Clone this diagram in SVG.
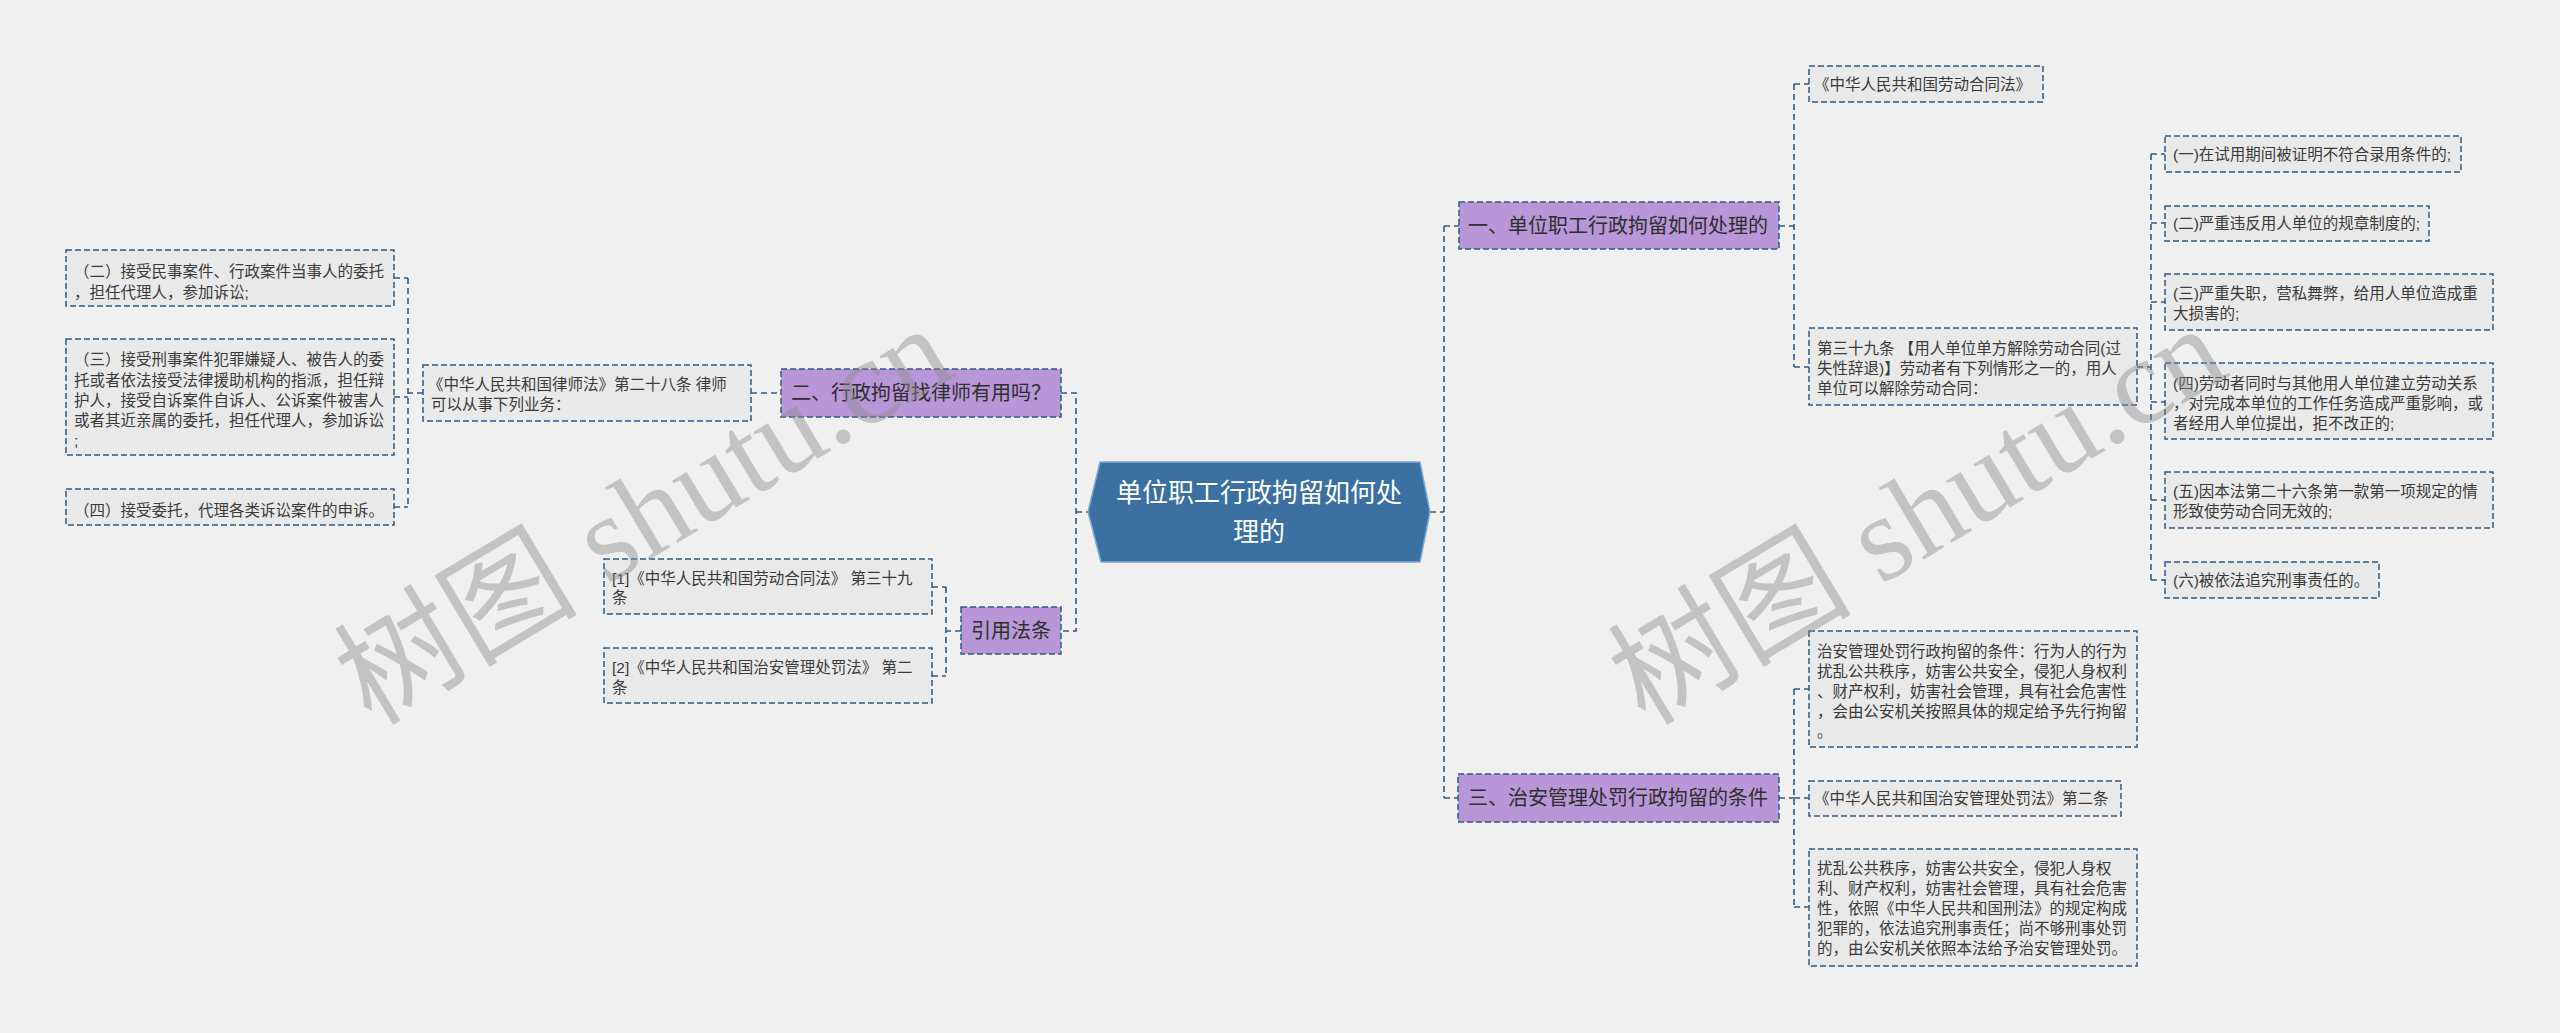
<svg xmlns="http://www.w3.org/2000/svg" width="2560" height="1033" viewBox="0 0 2560 1033">
<defs>
<style>
.bg{fill:#f0f0f0}
.leaf{fill:#e9e9e9;stroke:#2e5b82;stroke-width:1.5;stroke-dasharray:6 3}
.topic{fill:#b896d8;stroke:#2e5b82;stroke-width:1.5;stroke-dasharray:6 3}
.conn{fill:none;stroke:#2e5b82;stroke-width:1.6;stroke-dasharray:6 4}
.t{font-family:"Liberation Sans","Noto Sans CJK SC",sans-serif;font-size:15.5px;fill:#3a3a3a}
.tt{font-family:"Liberation Sans","Noto Sans CJK SC",sans-serif;font-size:20px;fill:#2e2e2e}
.ct{font-family:"Liberation Sans","Noto Sans CJK SC",sans-serif;font-size:26px;fill:#ffffff}
.wm{font-family:"Liberation Serif","Noto Sans CJK SC",serif;font-size:122px;fill:#8c8c8c;fill-opacity:0.45}
</style>
</defs>
<rect class="bg" x="0" y="0" width="2560" height="1033"/>

<g id="connectors">
<path class="conn" d="M423,393 H408 M408,278 V507 M394,278 H408 M394,397 H408 M394,507 H408"/>
<path class="conn" d="M751,393 H781"/>
<path class="conn" d="M1061,393 H1076 V631 H1061 M1076,512 H1088"/>
<path class="conn" d="M961,631 H946 M946,587 V676 M932,587 H946 M932,676 H946"/>
<path class="conn" d="M1430,512 H1444 M1444,226 V798 M1444,226 H1459 M1444,798 H1458"/>
<path class="conn" d="M1779,226 H1794 M1794,84 V367 M1794,84 H1809 M1794,367 H1809"/>
<path class="conn" d="M2137,367 H2151 M2151,154 V580 M2151,154 H2165 M2151,223 H2165 M2151,302 H2165 M2151,402 H2165 M2151,500 H2165 M2151,580 H2165"/>
<path class="conn" d="M1779,798 H1794 M1794,689 V907 M1794,689 H1809 M1794,798 H1809 M1794,907 H1809"/>
</g>

<g id="center">
<polygon points="1088,512 1100,462 1420,462 1430,512 1420,562 1101,562" fill="#3c70a3" stroke="#7fa8d0" stroke-width="1.5"/>
<text class="ct" x="1259" y="502" text-anchor="middle">单位职工行政拘留如何处</text>
<text class="ct" x="1259" y="541" text-anchor="middle">理的</text>
</g>

<g id="n-lawyer">
<rect class="topic" x="781" y="369" width="280" height="48"/>
<text class="tt" x="791" y="400">二、行政拘留找律师有用吗？</text>
</g>
<g id="n-cite">
<rect class="topic" x="961" y="607" width="100" height="47"/>
<text class="tt" x="1011" y="638" text-anchor="middle">引用法条</text>
</g>
<g id="n-lawyerlaw">
<rect class="leaf" x="423" y="365" width="328" height="56"/>
<text class="t" x="428" y="390">《中华人民共和国律师法》第二十八条 律师</text>
<text class="t" x="431" y="410">可以从事下列业务：</text>
</g>
<g id="n-l2">
<rect class="leaf" x="66" y="250" width="328" height="56"/>
<text class="t" x="74" y="277">（二）接受民事案件、行政案件当事人的委托</text>
<text class="t" x="74" y="298">，担任代理人，参加诉讼;</text>
</g>
<g id="n-l3">
<rect class="leaf" x="66" y="339" width="328" height="116"/>
<text class="t" x="74" y="365">（三）接受刑事案件犯罪嫌疑人、被告人的委</text>
<text class="t" x="74" y="386">托或者依法接受法律援助机构的指派，担任辩</text>
<text class="t" x="74" y="406">护人，接受自诉案件自诉人、公诉案件被害人</text>
<text class="t" x="74" y="426">或者其近亲属的委托，担任代理人，参加诉讼</text>
<text class="t" x="74" y="446">;</text>
</g>
<g id="n-l4">
<rect class="leaf" x="66" y="489" width="328" height="36"/>
<text class="t" x="74" y="516">（四）接受委托，代理各类诉讼案件的申诉。</text>
</g>
<g id="n-ref1">
<rect class="leaf" x="604" y="559" width="328" height="55"/>
<text class="t" x="612" y="584">[1]《中华人民共和国劳动合同法》 第三十九</text>
<text class="t" x="612" y="603">条</text>
</g>
<g id="n-ref2">
<rect class="leaf" x="604" y="648" width="328" height="55"/>
<text class="t" x="612" y="673">[2]《中华人民共和国治安管理处罚法》 第二</text>
<text class="t" x="612" y="693">条</text>
</g>

<g id="n-one">
<rect class="topic" x="1459" y="202" width="320" height="47"/>
<text class="tt" x="1468" y="233">一、单位职工行政拘留如何处理的</text>
</g>
<g id="n-labor">
<rect class="leaf" x="1809" y="66" width="234" height="36"/>
<text class="t" x="1814" y="90">《中华人民共和国劳动合同法》</text>
</g>
<g id="n-art39">
<rect class="leaf" x="1809" y="328" width="328" height="77"/>
<text class="t" x="1817" y="354">第三十九条 【用人单位单方解除劳动合同(过</text>
<text class="t" x="1817" y="374">失性辞退)】劳动者有下列情形之一的，用人</text>
<text class="t" x="1817" y="394">单位可以解除劳动合同：</text>
</g>
<g id="n-r1">
<rect class="leaf" x="2165" y="136" width="296" height="36"/>
<text class="t" x="2173" y="160">(一)在试用期间被证明不符合录用条件的;</text>
</g>
<g id="n-r2">
<rect class="leaf" x="2165" y="206" width="264" height="35"/>
<text class="t" x="2173" y="229">(二)严重违反用人单位的规章制度的;</text>
</g>
<g id="n-r3">
<rect class="leaf" x="2165" y="274" width="328" height="56"/>
<text class="t" x="2173" y="299">(三)严重失职，营私舞弊，给用人单位造成重</text>
<text class="t" x="2173" y="319">大损害的;</text>
</g>
<g id="n-r4">
<rect class="leaf" x="2165" y="363" width="328" height="76"/>
<text class="t" x="2173" y="389">(四)劳动者同时与其他用人单位建立劳动关系</text>
<text class="t" x="2173" y="409">，对完成本单位的工作任务造成严重影响，或</text>
<text class="t" x="2173" y="429">者经用人单位提出，拒不改正的;</text>
</g>
<g id="n-r5">
<rect class="leaf" x="2165" y="472" width="328" height="56"/>
<text class="t" x="2173" y="497">(五)因本法第二十六条第一款第一项规定的情</text>
<text class="t" x="2173" y="517">形致使劳动合同无效的;</text>
</g>
<g id="n-r6">
<rect class="leaf" x="2165" y="562" width="214" height="36"/>
<text class="t" x="2173" y="586">(六)被依法追究刑事责任的。</text>
</g>

<g id="n-three">
<rect class="topic" x="1458" y="774" width="321" height="48"/>
<text class="tt" x="1468" y="805">三、治安管理处罚行政拘留的条件</text>
</g>
<g id="n-cond">
<rect class="leaf" x="1809" y="631" width="328" height="116"/>
<text class="t" x="1817" y="657">治安管理处罚行政拘留的条件：行为人的行为</text>
<text class="t" x="1817" y="677">扰乱公共秩序，妨害公共安全，侵犯人身权利</text>
<text class="t" x="1817" y="697">、财产权利，妨害社会管理，具有社会危害性</text>
<text class="t" x="1817" y="717">，会由公安机关按照具体的规定给予先行拘留</text>
<text class="t" x="1817" y="737">。</text>
</g>
<g id="n-art2">
<rect class="leaf" x="1809" y="781" width="312" height="35"/>
<text class="t" x="1814" y="804">《中华人民共和国治安管理处罚法》第二条</text>
</g>
<g id="n-disturb">
<rect class="leaf" x="1809" y="849" width="328" height="117"/>
<text class="t" x="1817" y="874"> 扰乱公共秩序，妨害公共安全，侵犯人身权</text>
<text class="t" x="1817" y="894">利、财产权利，妨害社会管理，具有社会危害</text>
<text class="t" x="1817" y="914">性，依照《中华人民共和国刑法》的规定构成</text>
<text class="t" x="1817" y="934">犯罪的，依法追究刑事责任；尚不够刑事处罚</text>
<text class="t" x="1817" y="954">的，由公安机关依照本法给予治安管理处罚。</text>
</g>

<g id="watermarks">
<text class="wm" transform="translate(645,518) rotate(-31)" x="0" y="38" text-anchor="middle">树图 shutu.cn</text>
<text class="wm" transform="translate(1919,518) rotate(-31)" x="0" y="38" text-anchor="middle">树图 shutu.cn</text>
</g>
</svg>
